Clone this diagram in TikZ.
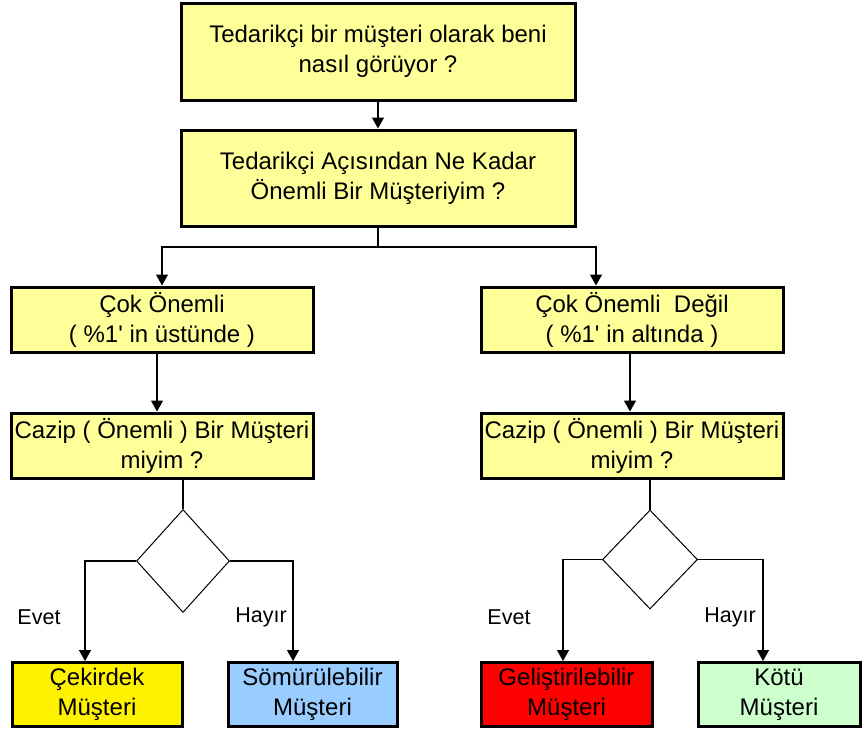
\documentclass[tikz,border=0pt]{standalone}
\usepackage{fontspec}
\setmainfont{Liberation Sans}
\usepackage{tikz}
\usetikzlibrary{arrows.meta,shapes.geometric,positioning}
\definecolor{paleyellow}{HTML}{FFFF99}
\definecolor{skyblue}{HTML}{99CCFF}
\definecolor{palegreen}{HTML}{CCFFCC}

\begin{document}
\begin{tikzpicture}[x=1pt, y=-1pt, >={Triangle[width=12pt,length=11pt]},
  qbox/.style={draw, line width=3pt, fill=paleyellow, align=center, inner sep=0pt,
    font=\fontsize{24}{30}\selectfont},
  dec/.style={diamond, draw, line width=1pt, inner sep=0pt},
  link/.style={line width=1.3pt},
  lbl/.style={font=\fontsize{21.5}{24}\selectfont}]
\path[use as bounding box] (0,0) rectangle (862,731);
\node[qbox, minimum width=394pt, minimum height=97pt] (Q1) at (378,51.5) {Tedarikçi bir müşteri olarak beni\\nasıl görüyor ?};
\node[qbox, minimum width=394pt, minimum height=96pt] (Q2) at (378,178) {Tedarikçi Açısından Ne Kadar\\Önemli Bir Müşteriyim ?};
\node[qbox, minimum width=302pt, minimum height=65pt] (Cok) at (162,319.5) {Çok Önemli\\( \%1\textquotesingle\ in üstünde )};
\node[qbox, minimum width=302pt, minimum height=65pt] (Az) at (632,319.5) {Çok Önemli\ \ Değil\\( \%1\textquotesingle\ in altında )};
\node[qbox, minimum width=302pt, minimum height=65pt] (CazL) at (162,445.5) {Cazip ( Önemli ) Bir Müşteri\\miyim ?};
\node[qbox, minimum width=302pt, minimum height=65pt] (CazR) at (632,445.5) {Cazip ( Önemli ) Bir Müşteri\\miyim ?};
\node[dec, minimum width=93pt, minimum height=103pt] (DL) at (183,561) {};
\node[dec, minimum width=95pt, minimum height=99pt] (DR) at (650,559.5) {};
\node[qbox, fill=yellow, minimum width=170pt, minimum height=64pt] (Cek) at (97,694.5) {Çekirdek\\Müşteri};
\node[qbox, fill=skyblue, minimum width=169pt, minimum height=64pt] (Som) at (312.5,694.5) {Sömürülebilir\\Müşteri};
\node[qbox, fill=red, minimum width=171pt, minimum height=64pt] (Gel) at (566.5,694.5) {Geliştirilebilir\\Müşteri};
\node[qbox, fill=palegreen, minimum width=162pt, minimum height=64pt] (Kot) at (779,694.5) {Kötü\\Müşteri};
\node[lbl] (EvL) at (39,617) {Evet};
\node[lbl] (HaL) at (261,617) {Hayır};
\node[lbl] (EvR) at (509,617) {Evet};
\node[lbl] (HaR) at (730,617) {Hayır};
\coordinate (split) at (378,247);
\draw[link,->] (Q1) -- (Q2);
\draw[link] (Q2) -- (split);
\draw[link,->] (split) -| (Cok.north);
\draw[link,->] (split) -| ([xshift=-36pt]Az.north);
\draw[link,->] ([xshift=-5pt]Cok.south) -- ([xshift=-5pt]CazL.north);
\draw[link,->] ([xshift=-2pt]Az.south) -- ([xshift=-2pt]CazR.north);
\draw[link] (DL.north |- CazL.south) -- (DL.north);
\draw[link] (DR.north |- CazR.south) -- (DR.north);
\draw[link,->] (DL.west) -| ([xshift=-12pt]Cek.north);
\draw[link,->] (DL.east) -| ([xshift=-19.5pt]Som.north);
\draw[link,->] (DR.west) -| ([xshift=-3.5pt]Gel.north);
\draw[link,->] (DR.east) -| ([xshift=-16pt]Kot.north);
\end{tikzpicture}
\end{document}
